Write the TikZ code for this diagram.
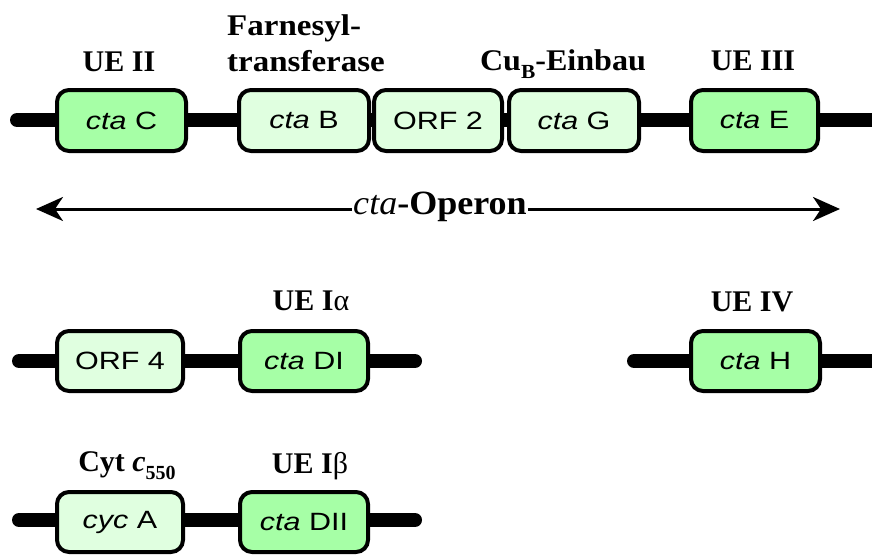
\documentclass[tikz,border=0pt]{standalone}
\usepackage{fontspec}
\usetikzlibrary{arrows.meta}
\newfontfamily\boxf[FakeStretch=1.22]{Liberation Sans}
\newfontfamily\labop[FakeStretch=1.06]{Liberation Serif}
\newfontfamily\labn{Liberation Serif}
\newfontfamily\labw[FakeStretch=1.1]{Liberation Serif}
\newfontfamily\labcu[FakeStretch=1.07]{Liberation Serif}
\definecolor{gdark}{HTML}{A6FFA6}
\definecolor{glight}{HTML}{E0FFE0}
\newcommand{\lowsub}[2]{\raisebox{-0.28em}{\fontsize{#1}{#1}\selectfont #2}}
\tikzset{
  gene/.style={draw=black, line width=4pt, rounded corners=12pt, minimum height=61pt,
    inner sep=0pt, font=\boxf\fontsize{25}{27}\selectfont},
  dark/.style={gene, fill=gdark},
  light/.style={gene, fill=glight},
  backbone/.style={line width=14pt, line cap=round, draw=black},
  lab/.style={font=\labn\bfseries\fontsize{30}{32}\selectfont, inner sep=0pt, anchor=base},
  labwide/.style={font=\labw\bfseries\fontsize{30}{32}\selectfont, inner sep=0pt, anchor=base west},
}
\begin{document}
\begin{tikzpicture}[x=1pt,y=-1pt]
\useasboundingbox (0,0) rectangle (872,554);
% backbones
\coordinate (r1a) at (17,120); \coordinate (r1b) at (890,120);
\coordinate (r2a) at (19,361); \coordinate (r2b) at (415,361);
\coordinate (r2c) at (634,361); \coordinate (r2d) at (890,361);
\coordinate (r3a) at (19,520); \coordinate (r3b) at (415,520);
\draw[backbone] (r1a) -- (r1b);
\draw[backbone] (r2a) -- (r2b);
\draw[backbone] (r2c) -- (r2d);
\draw[backbone] (r3a) -- (r3b);
% row 1 genes
\node[dark, minimum width=129pt] (ctaC) at (121.5,120.5) {\itshape cta\upshape\ C};
\node[light, minimum width=130pt] (ctaB) at (304,120.5) {\itshape cta\upshape\ B};
\node[light, minimum width=128pt] (orf2) at (438,120.5) {ORF 2};
\node[light, minimum width=130pt] (ctaG) at (574,120.5) {\itshape cta\upshape\ G};
\node[dark, minimum width=127pt] (ctaE) at (754.5,120.5) {\itshape cta\upshape\ E};
% row 1 labels
\node[lab] (lUEII) at (119,71) {UE II};
\node[labwide] (lFarn1) at (227,35) {Farnesyl-};
\node[labwide] (lFarn2) at (227,71) {transferase};
\node[lab, font=\labcu\bfseries\fontsize{30}{32}\selectfont] (lCu) at (563,70) {Cu\lowsub{20}{B}-Einbau};
\node[lab] (lUEIII) at (753,70) {UE III};
% operon arrow
\coordinate (arL) at (36,209); \coordinate (arR) at (840,209);
\draw[line width=3pt, {Stealth[length=27pt,width=24pt,inset=8pt]}-{Stealth[length=27pt,width=24pt,inset=8pt]}] (arL) -- (arR);
\node[fill=white, inner sep=1pt, font=\labop\bfseries\fontsize{34}{36}\selectfont] (operon) at (440,207) {\mdseries\itshape cta\upshape\bfseries-Operon};
% row 2
\node[light, minimum width=126pt, minimum height=60pt] (orf4) at (120,361) {ORF 4};
\node[dark, minimum width=128pt, minimum height=60pt] (ctaDI) at (304,361) {\itshape cta\upshape\ DI};
\node[dark, minimum width=129pt, minimum height=60pt] (ctaH) at (755.5,361) {\itshape cta\upshape\ H};
\node[lab] (lUEIa) at (311,310) {UE I\mdseries α};
\node[lab] (lUEIV) at (752,311) {UE IV};
% row 3
\node[light, minimum width=126pt, minimum height=60pt] (cycA) at (120,522) {\itshape cyc\upshape\ A};
\node[dark, minimum width=128pt, minimum height=60pt] (ctaDII) at (304,522) {\itshape cta\upshape\ DII};
\node[lab] (lCyt) at (127,471) {Cyt \textit{c}\lowsub{20}{550}};
\node[lab] (lUEIb) at (310,473) {UE I\mdseries β};
\end{tikzpicture}
\end{document}
